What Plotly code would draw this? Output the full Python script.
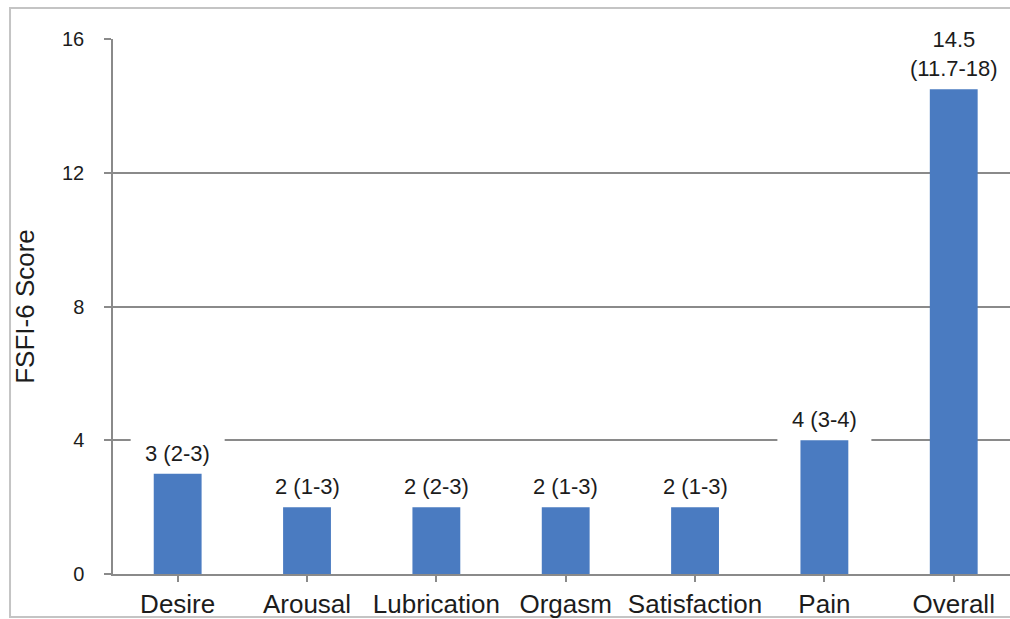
import plotly.graph_objects as go

# FSFI-6 domain scores: median (interquartile range)
domains = ["Desire", "Arousal", "Lubrication", "Orgasm", "Satisfaction", "Pain", "Overall"]
medians = [3, 2, 2, 2, 2, 4, 14.5]
iqr_labels = ["(2-3)", "(1-3)", "(2-3)", "(1-3)", "(1-3)", "(3-4)", "(11.7-18)"]
y_ticks = [0, 4, 8, 12, 16]

BAR = "#4a7bc1"
GRID = "#8a8a8a"
TEXT = "#1c1c1c"
FONT = "Liberation Sans, Arial, Helvetica, sans-serif"

fig = go.Figure(
    go.Bar(
        x=list(range(len(domains))),
        y=medians,
        width=0.37,
        marker=dict(color=BAR, line=dict(width=0)),
        hoverinfo="skip",
    )
)

# value labels; a white pad under each one breaks the gridlines behind it
for i, (m, r) in enumerate(zip(medians, iqr_labels)):
    two_lines = len(r) >= 8
    text = f"{m:g}<br>{r}" if two_lines else f"{m:g} {r}"
    half_w = 57 if two_lines else 47
    fig.add_shape(
        type="rect", layer="between",
        xref="x", yref="y",
        xsizemode="pixel", ysizemode="pixel",
        xanchor=i, yanchor=m,
        x0=-half_w, x1=half_w, y0=-1, y1=80 if two_lines else 40,
        fillcolor="white", line=dict(width=0),
    )
    fig.add_annotation(
        x=i, y=m, xref="x", yref="y",
        text=text, showarrow=False,
        yanchor="bottom", yshift=6,
        font=dict(family=FONT, size=22, color=TEXT),
    )

# outer frame around the chart
fig.add_shape(
    type="rect", xref="paper", yref="paper",
    x0=-0.1148, x1=1.02, y0=-0.0804, y1=1.058,
    line=dict(color="#c4c4c4", width=2), layer="below",
)

fig.update_layout(
    width=1010, height=619,
    margin=dict(l=113, r=0, t=39, b=45),
    paper_bgcolor="white", plot_bgcolor="white",
    showlegend=False,
    bargap=0.63,
    font=dict(family=FONT, color=TEXT),
    xaxis=dict(
        range=[-0.5, 6.435],
        tickmode="array",
        tickvals=list(range(len(domains))),
        ticktext=domains,
        tickson="boundaries",
        ticks="outside", ticklen=6, tickcolor=GRID, tickwidth=1.5,
        showline=True, linecolor=GRID, linewidth=1.5,
        showgrid=False, zeroline=False,
        tickfont=dict(family=FONT, size=26, color=TEXT),
    ),
    yaxis=dict(
        range=[0, 16],
        tickmode="array", tickvals=y_ticks,
        ticks="outside", ticklen=7, tickcolor=GRID, tickwidth=1.5,
        ticklabelstandoff=16,
        showline=True, linecolor=GRID, linewidth=1.5,
        showgrid=True, gridcolor=GRID, gridwidth=1.5,
        zeroline=False,
        tickfont=dict(family=FONT, size=20, color=TEXT),
        title=dict(text="FSFI-6 Score", font=dict(family=FONT, size=26, color=TEXT), standoff=20),
    ),
)

fig.write_html("out.html")
